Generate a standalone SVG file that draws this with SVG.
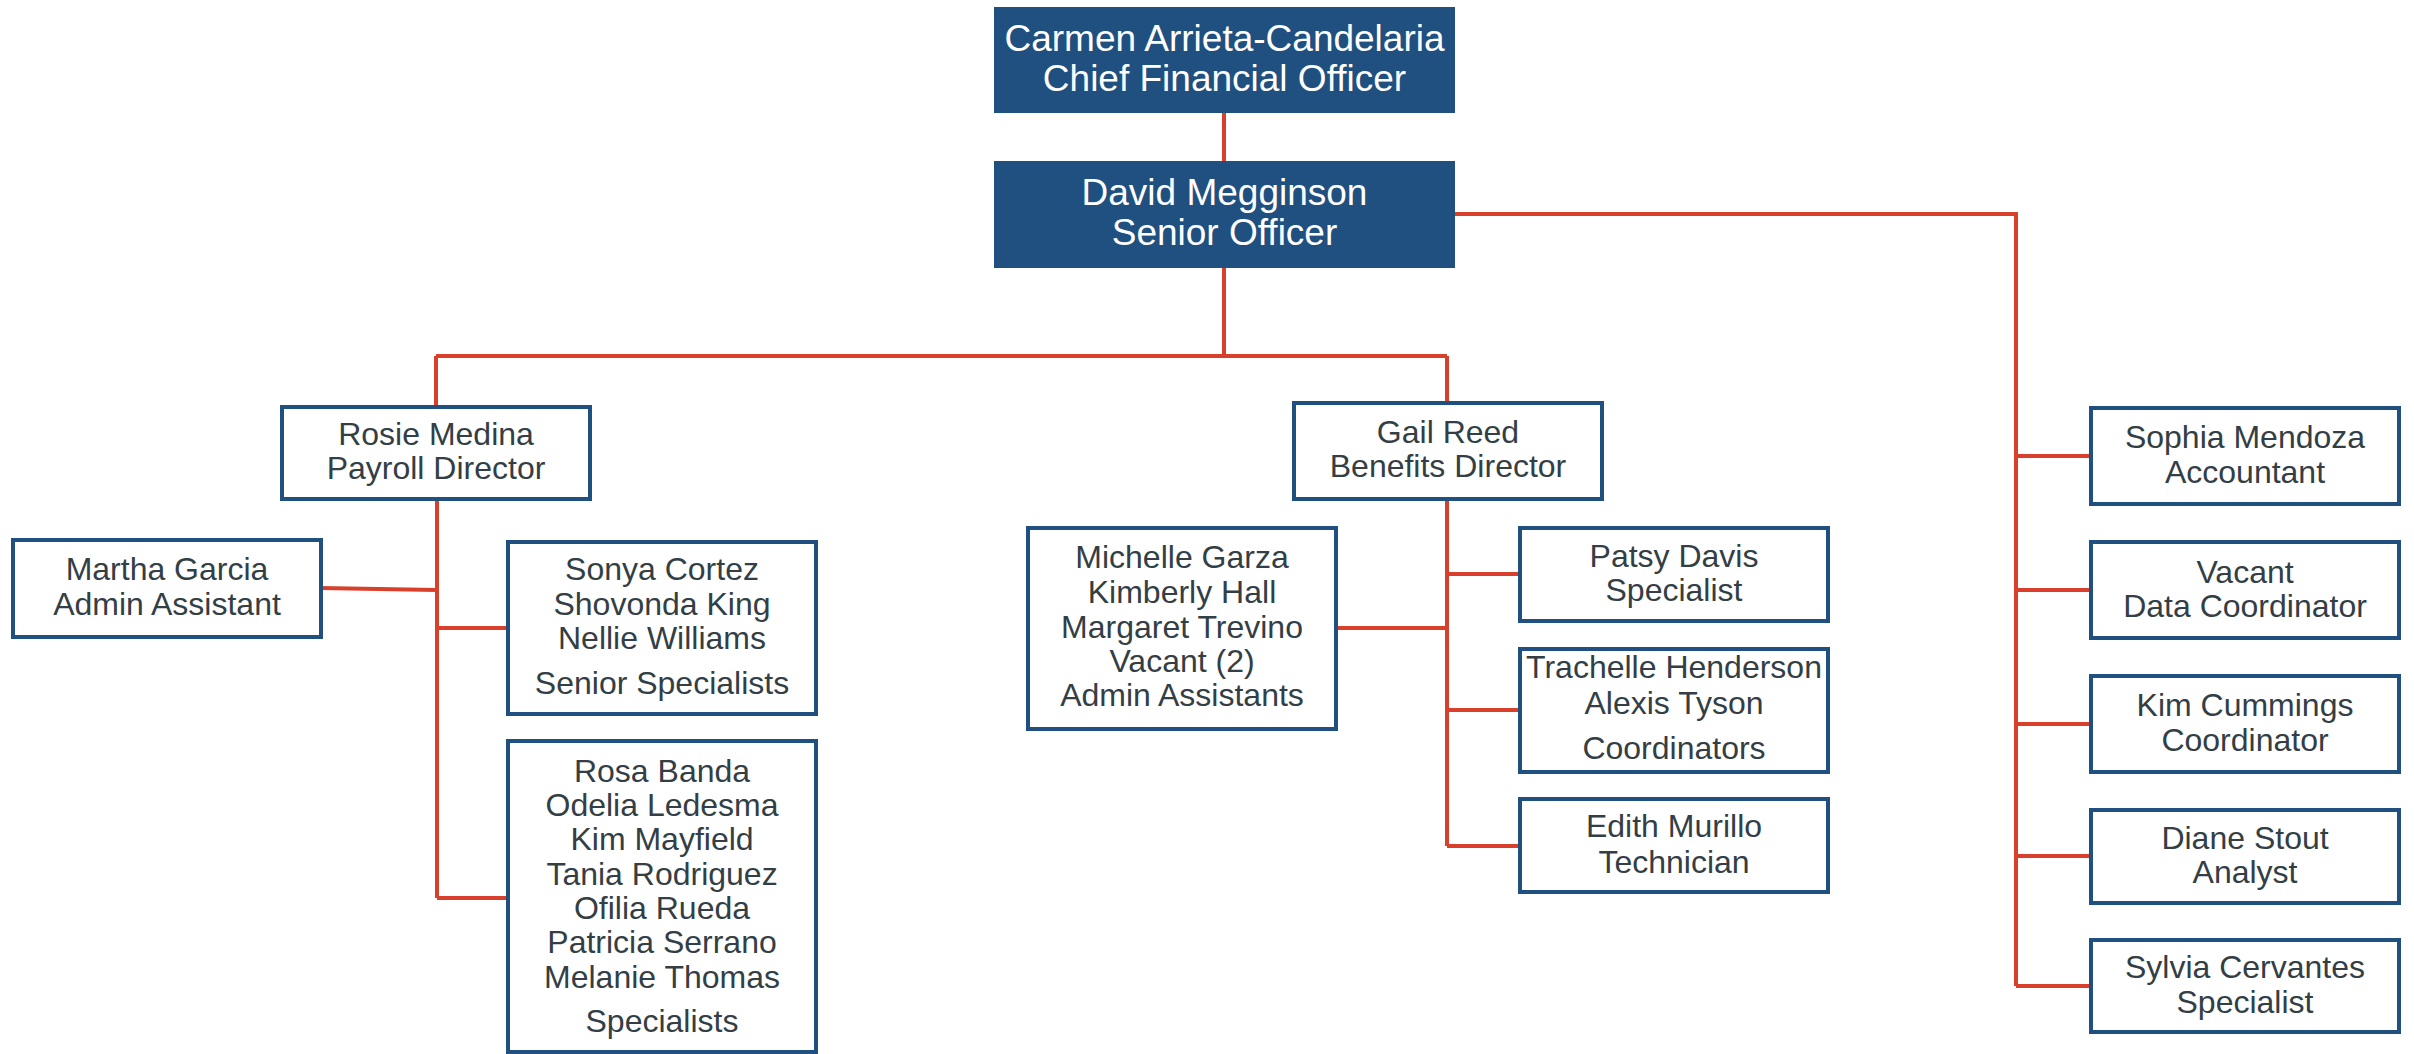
<svg xmlns="http://www.w3.org/2000/svg" width="2414" height="1054" viewBox="0 0 2414 1054">
<style>
.top rect{fill:#1F5080;}
.top text{fill:#ffffff;font-family:"Liberation Sans",Arial,sans-serif;font-size:37px;text-anchor:middle;}
.box rect{fill:#ffffff;stroke:#1F5080;stroke-width:4;}
.box text{fill:#333E45;font-family:"Liberation Sans",Arial,sans-serif;font-size:32px;text-anchor:middle;}
#connectors path{fill:none;stroke:#D8402B;stroke-width:4;}
</style>
<rect width="2414" height="1054" fill="#ffffff"/>
<g id="connectors">
<path d="M1224,113 V161"/>
<path d="M1224,268 V356 M436,356 H1447 M436,356 V407 M1447,356 V403"/>
<path d="M437,499 V898 M320,588 L437,590 M437,628 H508 M437,898 H508"/>
<path d="M1447,499 V846 M1336,628 H1447 M1447,574 H1520 M1447,710 H1520 M1447,846 H1520"/>
<path d="M1455,214 H2016 V986 M2016,456 H2091 M2016,590 H2091 M2016,724 H2091 M2016,856 H2091 M2016,986 H2091"/>
</g>
<g id="cfo" class="top">
<rect x="994" y="7" width="461" height="106"/>
<text x="1224.5" y="51">Carmen Arrieta-Candelaria</text>
<text x="1224.5" y="91">Chief Financial Officer</text>
</g>
<g id="senior" class="top">
<rect x="994" y="161" width="461" height="107"/>
<text x="1224.5" y="205">David Megginson</text>
<text x="1224.5" y="245">Senior Officer</text>
</g>
<g id="rosie" class="box">
<rect x="282" y="407" width="308" height="92"/>
<text x="436" y="445">Rosie Medina</text>
<text x="436" y="479">Payroll Director</text>
</g>
<g id="martha" class="box">
<rect x="13" y="540" width="308" height="97"/>
<text x="167" y="580">Martha Garcia</text>
<text x="167" y="615">Admin Assistant</text>
</g>
<g id="senior-specialists" class="box">
<rect x="508" y="542" width="308" height="172"/>
<text x="662" y="580">Sonya Cortez</text>
<text x="662" y="615">Shovonda King</text>
<text x="662" y="649">Nellie Williams</text>
<text x="662" y="694">Senior Specialists</text>
</g>
<g id="specialists" class="box">
<rect x="508" y="741" width="308" height="311"/>
<text x="662" y="782">Rosa Banda</text>
<text x="662" y="816">Odelia Ledesma</text>
<text x="662" y="850">Kim Mayfield</text>
<text x="662" y="885">Tania Rodriguez</text>
<text x="662" y="919">Ofilia Rueda</text>
<text x="662" y="953">Patricia Serrano</text>
<text x="662" y="988">Melanie Thomas</text>
<text x="662" y="1032">Specialists</text>
</g>
<g id="gail" class="box">
<rect x="1294" y="403" width="308" height="96"/>
<text x="1448" y="443">Gail Reed</text>
<text x="1448" y="477">Benefits Director</text>
</g>
<g id="admin-assistants" class="box">
<rect x="1028" y="528" width="308" height="201"/>
<text x="1182" y="568">Michelle Garza</text>
<text x="1182" y="603">Kimberly Hall</text>
<text x="1182" y="638">Margaret Trevino</text>
<text x="1182" y="672">Vacant (2)</text>
<text x="1182" y="706">Admin Assistants</text>
</g>
<g id="patsy" class="box">
<rect x="1520" y="528" width="308" height="93"/>
<text x="1674" y="567">Patsy Davis</text>
<text x="1674" y="601">Specialist</text>
</g>
<g id="coordinators" class="box">
<rect x="1520" y="649" width="308" height="123"/>
<text x="1674" y="678">Trachelle Henderson</text>
<text x="1674" y="714">Alexis Tyson</text>
<text x="1674" y="759">Coordinators</text>
</g>
<g id="edith" class="box">
<rect x="1520" y="799" width="308" height="93"/>
<text x="1674" y="837">Edith Murillo</text>
<text x="1674" y="873">Technician</text>
</g>
<g id="sophia" class="box">
<rect x="2091" y="408" width="308" height="96"/>
<text x="2245" y="448">Sophia Mendoza</text>
<text x="2245" y="483">Accountant</text>
</g>
<g id="vacant" class="box">
<rect x="2091" y="542" width="308" height="96"/>
<text x="2245" y="583">Vacant</text>
<text x="2245" y="617">Data Coordinator</text>
</g>
<g id="kim" class="box">
<rect x="2091" y="676" width="308" height="96"/>
<text x="2245" y="716">Kim Cummings</text>
<text x="2245" y="751">Coordinator</text>
</g>
<g id="diane" class="box">
<rect x="2091" y="810" width="308" height="93"/>
<text x="2245" y="849">Diane Stout</text>
<text x="2245" y="883">Analyst</text>
</g>
<g id="sylvia" class="box">
<rect x="2091" y="940" width="308" height="92"/>
<text x="2245" y="978">Sylvia Cervantes</text>
<text x="2245" y="1013">Specialist</text>
</g>
</svg>
